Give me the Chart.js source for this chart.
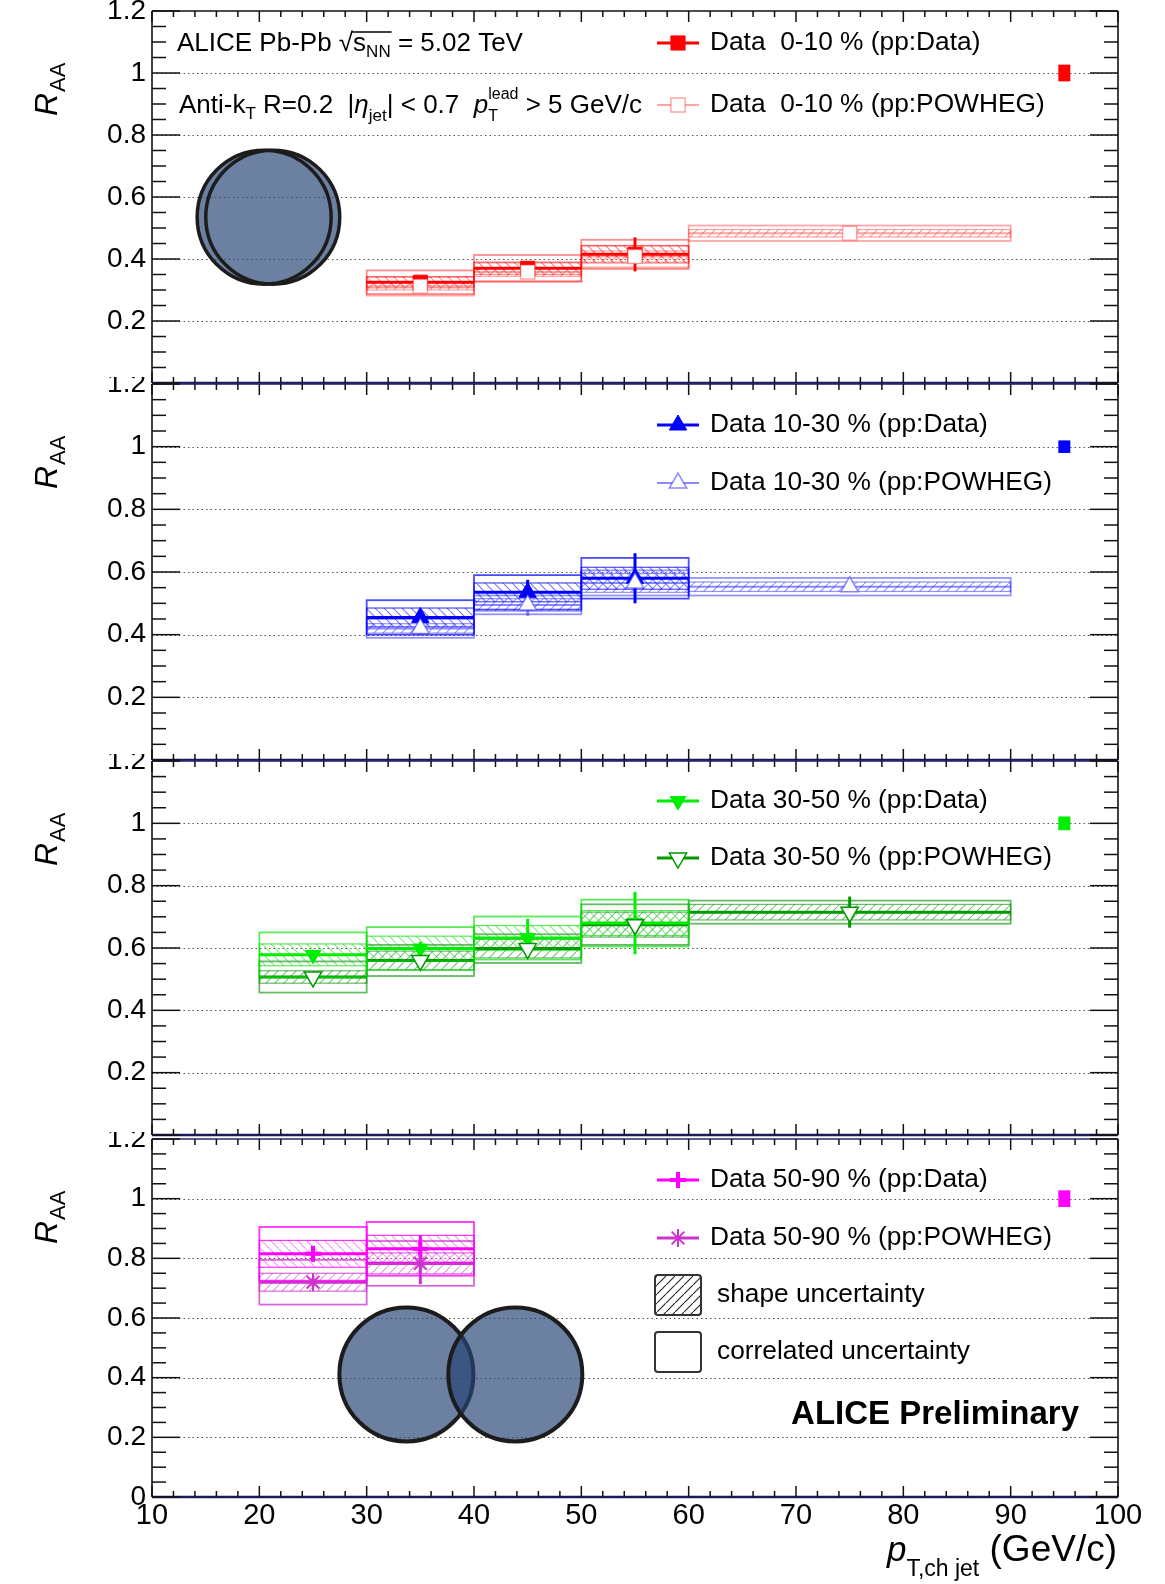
<!DOCTYPE html>
<html>
<head>
<meta charset="utf-8">
<script src="https://cdn.jsdelivr.net/npm/chart.js@4.4.1/dist/chart.umd.min.js"></script>
<style>
html,body{margin:0;padding:0;background:#fff;}
#wrap{position:relative;width:1165px;height:1584px;overflow:hidden;background:#fff;}
#wrap canvas{position:absolute;left:0;}
</style>
</head>
<body>
<div id="wrap"></div>
<script>
// ================= DATA =================
const xTickValues = [10, 20, 30, 40, 50, 60, 70, 80, 90, 100];
const yTickValues = [0, 0.2, 0.4, 0.6, 0.8, 1, 1.2];
const normX = 95;

// 0-10 %
const binsC0Data  = [[30,40],[40,50],[50,60]];
const valC0Data   = [0.325, 0.370, 0.415];
const statC0Data  = [0.012, 0.012, 0.055];
const shapeC0Data = [0.018, 0.020, 0.028];
const corrC0Data  = [0.038, 0.043, 0.047];
const binsC0Pow   = [[30,40],[40,50],[50,60],[60,90]];
const valC0Pow    = [0.312, 0.358, 0.408, 0.483];
const statC0Pow   = [0.008, 0.010, 0.020, 0.012];
const shapeC0Pow  = [0.012, 0.014, 0.018, 0.012];
const corrC0Pow   = [0.030, 0.030, 0.035, 0.025];
const normC0 = 0.027;

// 10-30 %
const binsC1Data  = [[30,40],[40,50],[50,60]];
const valC1Data   = [0.455, 0.535, 0.580];
const statC1Data  = [0.020, 0.040, 0.080];
const shapeC1Data = [0.030, 0.030, 0.035];
const corrC1Data  = [0.055, 0.055, 0.065];
const binsC1Pow   = [[30,40],[40,50],[50,60],[60,90]];
const valC1Pow    = [0.420, 0.495, 0.565, 0.553];
const statC1Pow   = [0.020, 0.035, 0.030, 0.010];
const shapeC1Pow  = [0.015, 0.020, 0.030, 0.015];
const corrC1Pow   = [0.030, 0.030, 0.040, 0.028];
const normC1 = 0.02;

// 30-50 %
const binsC2Data  = [[20,30],[30,40],[40,50],[50,60]];
const valC2Data   = [0.578, 0.598, 0.632, 0.680];
const statC2Data  = [0.008, 0.022, 0.062, 0.100];
const shapeC2Data = [0.035, 0.040, 0.040, 0.040];
const corrC2Data  = [0.072, 0.069, 0.069, 0.075];
const binsC2Pow   = [[20,30],[30,40],[40,50],[50,60],[60,90]];
const valC2Pow    = [0.507, 0.560, 0.598, 0.675, 0.715];
const statC2Pow   = [0.010, 0.020, 0.030, 0.030, 0.050];
const shapeC2Pow  = [0.020, 0.030, 0.030, 0.040, 0.025];
const corrC2Pow   = [0.050, 0.050, 0.046, 0.065, 0.037];
const normC2 = 0.022;

// 50-90 %
const binsC3Data  = [[20,30],[30,40]];
const valC3Data   = [0.815, 0.832];
const statC3Data  = [0.025, 0.045];
const shapeC3Data = [0.045, 0.045];
const corrC3Data  = [0.090, 0.090];
const binsC3Pow   = [[20,30],[30,40]];
const valC3Pow    = [0.720, 0.783];
const statC3Pow   = [0.015, 0.070];
const shapeC3Pow  = [0.030, 0.035];
const corrC3Pow   = [0.075, 0.075];
const normC3 = 0.028;

const labelsData = ['Data  0-10 % (pp:Data)', 'Data 10-30 % (pp:Data)', 'Data 30-50 % (pp:Data)', 'Data 50-90 % (pp:Data)'];
const labelsPow  = ['Data  0-10 % (pp:POWHEG)', 'Data 10-30 % (pp:POWHEG)', 'Data 30-50 % (pp:POWHEG)', 'Data 50-90 % (pp:POWHEG)'];
const labelsUnc  = ['shape uncertainty', 'correlated uncertainty'];
const textPrelim = 'ALICE Preliminary';

// overlay discs (data units)
const discsPanel0 = [[20.45, 0.535], [21.25, 0.535]];
const discsPanel3 = [[33.7, 0.411], [43.85, 0.411]];

// ================= STYLE / LAYOUT =================
const FF = "'Liberation Sans', Arial, Helvetica, sans-serif";
const CHART_LEFT = 152, RIGHT_PAD = 47;
const layouts = [
  {top: 0,    height: 385, padTop: 11, padBottom: 2, rows: [32, 94]},
  {top: 377,  height: 385, padTop: 7,  padBottom: 2, rows: [41, 99]},
  {top: 754,  height: 383, padTop: 7,  padBottom: 2, rows: [40, 97]},
  {top: 1132, height: 452, padTop: 7,  padBottom: 0, rows: [41, 99, 156, 213]}
];

function S(bins, val, stat, shape, corr, st) { return Object.assign({bins, val, stat, shape, corr}, st); }

const panels = [
  { norm: normC0, normColor: '#ff0000', discs: discsPanel0, discUnion: true,
    pow: S(binsC0Pow, valC0Pow, statC0Pow, shapeC0Pow, corrC0Pow,
      {color: 'rgba(255,40,40,0.42)', box: 'rgba(255,0,0,0.35)', hatchColor: 'rgba(255,0,0,0.4)', dir: 1, lw: 2,
       marker: {style: 'rect', r: 10, rot: 0, filled: false, bw: 1.5}, label: labelsPow[0]}),
    data: S(binsC0Data, valC0Data, statC0Data, shapeC0Data, corrC0Data,
      {color: '#ff0000', box: 'rgba(255,0,0,0.45)', hatchColor: 'rgba(255,0,0,0.5)', dir: -1, lw: 3,
       marker: {style: 'rect', r: 10, rot: 0, filled: true, bw: 1}, label: labelsData[0]}) },
  { norm: normC1, normColor: '#0000ff', discs: [], discUnion: false,
    pow: S(binsC1Pow, valC1Pow, statC1Pow, shapeC1Pow, corrC1Pow,
      {color: 'rgba(60,60,255,0.6)', box: 'rgba(40,40,255,0.5)', hatchColor: 'rgba(40,40,255,0.5)', dir: 1, lw: 2,
       marker: {style: 'triangle', r: 10, rot: 0, filled: false, bw: 1.5}, label: labelsPow[1]}),
    data: S(binsC1Data, valC1Data, statC1Data, shapeC1Data, corrC1Data,
      {color: '#0000ff', box: 'rgba(0,0,255,0.7)', hatchColor: 'rgba(0,0,255,0.55)', dir: -1, lw: 3,
       marker: {style: 'triangle', r: 10, rot: 0, filled: true, bw: 1}, label: labelsData[1]}) },
  { norm: normC2, normColor: '#00ee00', discs: [], discUnion: false,
    pow: S(binsC2Pow, valC2Pow, statC2Pow, shapeC2Pow, corrC2Pow,
      {color: '#009a00', box: 'rgba(0,140,0,0.6)', hatchColor: 'rgba(0,140,0,0.55)', dir: 1, lw: 3,
       marker: {style: 'triangle', r: 10, rot: 180, filled: false, bw: 1.5}, label: labelsPow[2]}),
    data: S(binsC2Data, valC2Data, statC2Data, shapeC2Data, corrC2Data,
      {color: '#00ee00', box: 'rgba(0,225,0,0.65)', hatchColor: 'rgba(0,210,0,0.5)', dir: -1, lw: 3,
       marker: {style: 'triangle', r: 9, rot: 180, filled: true, bw: 1}, label: labelsData[2]}) },
  { norm: normC3, normColor: '#ff00ff', discs: discsPanel3, discUnion: false,
    pow: S(binsC3Pow, valC3Pow, statC3Pow, shapeC3Pow, corrC3Pow,
      {color: '#cc33cc', box: 'rgba(200,40,200,0.7)', hatchColor: 'rgba(200,40,200,0.5)', dir: 1, lw: 3,
       marker: {style: 'star', r: 9, rot: 0, filled: false, bw: 2}, label: labelsPow[3]}),
    data: S(binsC3Data, valC3Data, statC3Data, shapeC3Data, corrC3Data,
      {color: '#ff00ff', box: 'rgba(255,0,255,0.8)', hatchColor: 'rgba(255,0,255,0.45)', dir: -1, lw: 3,
       marker: {style: 'cross', r: 8, rot: 0, filled: true, bw: 4}, label: labelsData[3]}) }
];

// ================= HELPERS =================
function makeHatch(ctx, color, dir) {
  const c = document.createElement('canvas'); c.width = 9; c.height = 9;
  const g = c.getContext('2d');
  g.strokeStyle = color; g.lineWidth = 1.1;
  g.beginPath();
  if (dir > 0) { g.moveTo(-2, 11); g.lineTo(11, -2); }
  else { g.moveTo(-2, -2); g.lineTo(11, 11); }
  g.stroke();
  return ctx.createPattern(c, 'repeat');
}
function line(ctx, x0, y0, x1, y1) { ctx.beginPath(); ctx.moveTo(x0, y0); ctx.lineTo(x1, y1); ctx.stroke(); }

function drawSeries(ctx, xs, ys, s) {
  const pat = makeHatch(ctx, s.hatchColor, s.dir);
  s.bins.forEach((b, i) => {
    const x0 = xs.getPixelForValue(b[0]), x1 = xs.getPixelForValue(b[1]);
    const v = s.val[i];
    const h0 = ys.getPixelForValue(v + s.shape[i]), h1 = ys.getPixelForValue(v - s.shape[i]);
    ctx.fillStyle = pat; ctx.fillRect(x0, h0, x1 - x0, h1 - h0);
    ctx.strokeStyle = s.box; ctx.lineWidth = 1.2; ctx.strokeRect(x0, h0, x1 - x0, h1 - h0);
    const c0 = ys.getPixelForValue(v + s.corr[i]), c1 = ys.getPixelForValue(v - s.corr[i]);
    ctx.lineWidth = 1.8; ctx.strokeRect(x0, c0, x1 - x0, c1 - c0);
    const yv = ys.getPixelForValue(v);
    ctx.strokeStyle = s.color; ctx.lineWidth = s.lw; line(ctx, x0, yv, x1, yv);
    const xc = xs.getPixelForValue((b[0] + b[1]) / 2);
    ctx.lineWidth = 3;
    line(ctx, xc, ys.getPixelForValue(v - s.stat[i]), xc, ys.getPixelForValue(v + s.stat[i]));
  });
}

function drawMarker(ctx, m, color, x, y) {
  ctx.save();
  ctx.fillStyle = m.filled ? color : '#ffffff';
  ctx.strokeStyle = color; ctx.lineWidth = m.bw;
  Chart.helpers.drawPoint(ctx, {pointStyle: m.style, radius: m.r, rotation: m.rot, borderWidth: m.bw}, x, y);
  ctx.restore();
}

function rich(ctx, x, y, parts) {
  for (const p of parts) {
    if (p.stack) {
      let w = 0;
      for (const q of p.stack) {
        ctx.font = (q.it ? 'italic ' : '') + q.s + 'px ' + FF;
        ctx.fillText(q.t, x, y + (q.dy || 0));
        w = Math.max(w, ctx.measureText(q.t).width);
      }
      x += w; continue;
    }
    ctx.font = (p.it ? 'italic ' : '') + (p.b ? 'bold ' : '') + p.s + 'px ' + FF;
    ctx.fillText(p.t, x, y + (p.dy || 0));
    const w = ctx.measureText(p.t).width;
    x += w;
    if (p.markEnd) p.markEnd.x = x;
  }
  return x;
}

function richWidth(ctx, parts) {
  let w = 0;
  for (const p of parts) { ctx.font = (p.it ? 'italic ' : '') + p.s + 'px ' + FF; w += ctx.measureText(p.t).width; }
  return w;
}

function makePlugin(idx) {
  const P = panels[idx], L = layouts[idx];
  return {
    id: 'rootStyle' + idx,
    beforeDatasetsDraw(chart) {
      const {ctx, chartArea: a, scales: {x: xs, y: ys}} = chart;
      ctx.save();
      ctx.beginPath(); ctx.rect(a.left, a.top, a.right - a.left, a.bottom - a.top); ctx.clip();
      ctx.strokeStyle = '#555'; ctx.lineWidth = 1.2; ctx.setLineDash([1.5, 3]);
      ys.ticks.forEach(t => {
        if (t.value > 1e-6 && t.value < 1.2 - 1e-6) {
          const y = Math.round(ys.getPixelForValue(t.value)) + 0.5;
          line(ctx, a.left, y, a.right, y);
        }
      });
      ctx.setLineDash([]);
      drawSeries(ctx, xs, ys, P.pow);
      drawSeries(ctx, xs, ys, P.data);
      const nx = xs.getPixelForValue(normX);
      const ny0 = ys.getPixelForValue(1 + P.norm), ny1 = ys.getPixelForValue(1 - P.norm);
      ctx.fillStyle = P.normColor; ctx.fillRect(nx - 6, ny0, 12, ny1 - ny0);
      ctx.restore();
    },
    afterDatasetsDraw(chart) {
      const {ctx, chartArea: a, scales: {x: xs, y: ys}} = chart;
      ctx.save();
      ctx.strokeStyle = '#111'; ctx.lineWidth = 1.6;
      line(ctx, a.left, a.bottom, a.left, a.top);
      line(ctx, a.right, a.bottom, a.right, a.top);
      ctx.strokeStyle = idx === 0 ? '#111' : '#2a2a70'; ctx.lineWidth = 1.6;
      line(ctx, a.left, a.top, a.right, a.top);
      ctx.strokeStyle = '#1a1a5c'; ctx.lineWidth = 2.6;
      line(ctx, a.left, a.bottom, a.right, a.bottom);
      ctx.strokeStyle = '#111'; ctx.lineWidth = 1.5;
      const xt = xs.ticks.map(t => t.value);
      xt.forEach((v, i) => {
        const X = xs.getPixelForValue(v);
        line(ctx, X, a.bottom, X, a.bottom - 11); line(ctx, X, a.top, X, a.top + 11);
        if (i < xt.length - 1) for (let k = 1; k < 5; k++) {
          const Xm = xs.getPixelForValue(v + (xt[i + 1] - v) * k / 5);
          line(ctx, Xm, a.bottom, Xm, a.bottom - 6); line(ctx, Xm, a.top, Xm, a.top + 6);
        }
      });
      const yt = ys.ticks.map(t => t.value);
      yt.forEach((v, i) => {
        const Y = ys.getPixelForValue(v);
        line(ctx, a.left, Y, a.left + 28, Y); line(ctx, a.right, Y, a.right - 28, Y);
        if (i < yt.length - 1) for (let k = 1; k < 4; k++) {
          const Ym = ys.getPixelForValue(v + (yt[i + 1] - v) * k / 4);
          line(ctx, a.left, Ym, a.left + 14, Ym); line(ctx, a.right, Ym, a.right - 14, Ym);
        }
      });
      ctx.textBaseline = 'middle'; ctx.fillStyle = '#000';
      [P.data, P.pow].forEach((s, r) => {
        const y = a.top + L.rows[r];
        ctx.strokeStyle = s.color; ctx.lineWidth = s.lw; line(ctx, 657, y, 699, y);
        drawMarker(ctx, s.marker, s.color, 678, y);
        ctx.fillStyle = '#000'; ctx.font = '26.3px ' + FF;
        ctx.fillText(s.label, 710, y);
      });
      ctx.textBaseline = 'alphabetic';
      ctx.save();
      ctx.translate(57, a.top + 105); ctx.rotate(-Math.PI / 2);
      ctx.fillStyle = '#000';
      ctx.font = 'italic 32px ' + FF; ctx.fillText('R', 0, 0);
      const wR = ctx.measureText('R').width;
      ctx.font = '22px ' + FF; ctx.fillText('AA', wR + 1, 8);
      ctx.restore();
      if (idx === 0) {
        ctx.fillStyle = '#000';
        const m1 = {}, m2 = {};
        rich(ctx, 177, a.top + 40, [
          {t: 'ALICE Pb-Pb ', s: 26}, {t: '\u221A', s: 26, markEnd: m1}, {t: 's', s: 26}, {t: 'NN', s: 17, dy: 6, markEnd: m2},
          {t: ' = 5.02 TeV', s: 26}]);
        ctx.strokeStyle = '#000'; ctx.lineWidth = 1.3;
        line(ctx, m1.x - 1, a.top + 21, m2.x + 1, a.top + 21);
        rich(ctx, 179, a.top + 102, [
          {t: 'Anti-k', s: 26}, {t: 'T', s: 17, dy: 6}, {t: ' R=0.2  |', s: 26}, {t: '\u03B7', s: 26, it: true},
          {t: 'jet', s: 17, dy: 8}, {t: '| < 0.7  ', s: 26}, {t: 'p', s: 26, it: true},
          {stack: [{t: 'lead', s: 16, dy: -14}, {t: 'T', s: 16, dy: 8}]}, {t: ' > 5 GeV/c', s: 26}]);
      }
      if (idx === 3) {
        const pat = makeHatch(ctx, '#222', 1);
        [0, 1].forEach(k => {
          const yc = a.top + L.rows[2 + k];
          ctx.beginPath();
          if (ctx.roundRect) ctx.roundRect(655, yc - 20, 46, 40, 3); else ctx.rect(655, yc - 20, 46, 40);
          if (k === 0) { ctx.fillStyle = pat; ctx.fill(); }
          ctx.strokeStyle = '#333'; ctx.lineWidth = 2; ctx.stroke();
          ctx.fillStyle = '#000'; ctx.font = '26.3px ' + FF; ctx.textBaseline = 'middle';
          ctx.fillText(labelsUnc[k], 717, yc);
        });
        ctx.textBaseline = 'middle'; ctx.textAlign = 'right';
        ctx.font = 'bold 33px ' + FF; ctx.fillText(textPrelim, 1079, a.top + 276);
        ctx.textAlign = 'left'; ctx.textBaseline = 'alphabetic';
        const parts = [{t: 'p', s: 35, it: true}, {t: 'T,ch jet', s: 23, dy: 15}, {t: ' (GeV/c)', s: 37}];
        const w = richWidth(ctx, parts);
        rich(ctx, 1117 - w, a.bottom + 64, parts);
      }
      const fillCol = 'rgba(38,68,118,0.68)';
      if (P.discUnion && P.discs.length) {
        ctx.beginPath();
        P.discs.forEach(d => {
          const cx = xs.getPixelForValue(d[0]), cy = ys.getPixelForValue(d[1]);
          ctx.moveTo(cx + 67, cy); ctx.arc(cx, cy, 67, 0, Math.PI * 2);
        });
        ctx.fillStyle = fillCol; ctx.fill('nonzero');
        P.discs.forEach(d => {
          const cx = xs.getPixelForValue(d[0]), cy = ys.getPixelForValue(d[1]);
          ctx.beginPath(); ctx.arc(cx, cy, 67, 0, Math.PI * 2);
          ctx.strokeStyle = '#1c1c1c'; ctx.lineWidth = 3.5; ctx.stroke();
        });
      } else {
        P.discs.forEach(d => {
          const cx = xs.getPixelForValue(d[0]), cy = ys.getPixelForValue(d[1]);
          ctx.beginPath(); ctx.arc(cx, cy, 67, 0, Math.PI * 2);
          ctx.fillStyle = fillCol; ctx.fill();
          ctx.strokeStyle = '#1c1c1c'; ctx.lineWidth = 4; ctx.stroke();
        });
      }
      ctx.restore();
    }
  };
}

function dataset(s) {
  return {
    label: s.label,
    data: s.bins.map((b, i) => ({x: (b[0] + b[1]) / 2, y: s.val[i]})),
    pointStyle: s.marker.style, pointRadius: s.marker.r, pointRotation: s.marker.rot,
    pointBackgroundColor: s.marker.filled ? s.color : '#ffffff',
    pointBorderColor: s.color, pointBorderWidth: s.marker.bw,
    showLine: false
  };
}

const wrap = document.getElementById('wrap');
panels.forEach((P, idx) => {
  const L = layouts[idx];
  const last = idx === 3;
  const cv = document.createElement('canvas');
  cv.width = 1165; cv.height = L.height;
  cv.style.top = L.top + 'px'; cv.style.width = '1165px'; cv.style.height = L.height + 'px';
  wrap.appendChild(cv);
  new Chart(cv.getContext('2d'), {
    type: 'scatter',
    data: {datasets: [dataset(P.pow), dataset(P.data)]},
    options: {
      responsive: false, animation: false, devicePixelRatio: 1,
      layout: {autoPadding: false, padding: {left: 0, right: RIGHT_PAD, top: L.padTop, bottom: L.padBottom}},
      plugins: {legend: {display: false}, tooltip: {enabled: false}, title: {display: false}},
      scales: {
        x: {
          type: 'linear', min: 10, max: 100,
          afterBuildTicks: s => { s.ticks = xTickValues.map(v => ({value: v})); },
          afterFit: s => { s.height = last ? 87 : 0; s.paddingLeft = 0; s.paddingRight = 0; },
          grid: {display: false, drawTicks: false, tickLength: 0}, border: {display: false},
          ticks: {display: last, autoSkip: false, maxRotation: 0, minRotation: 0, padding: 2,
                  color: '#000', font: {family: FF, size: 29}, callback: v => String(v)}
        },
        y: {
          type: 'linear', min: 0, max: 1.2,
          afterBuildTicks: s => { s.ticks = yTickValues.map(v => ({value: v})); },
          afterFit: s => { s.width = CHART_LEFT; s.paddingTop = 0; s.paddingBottom = 0; },
          grid: {display: false, drawTicks: false, tickLength: 0}, border: {display: false},
          ticks: {autoSkip: false, padding: 6, color: '#000', font: {family: FF, size: 28},
                  callback: v => (!last && v === 0) ? '' : String(v)}
        }
      }
    },
    plugins: [makePlugin(idx)]
  });
});
</script>
</body>
</html>
